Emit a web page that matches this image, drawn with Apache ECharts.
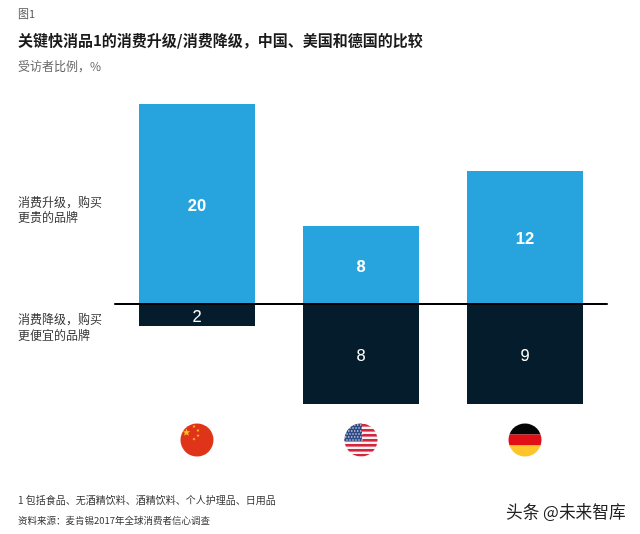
<!DOCTYPE html>
<html><head><meta charset="utf-8">
<style>html,body{margin:0;padding:0;background:#fff}#c{width:640px;height:534px}</style>
<script src="https://cdn.jsdelivr.net/npm/echarts@6/dist/echarts.min.js"></script>
</head><body><div id="c"></div>
<script>
const countries = ['中国', '美国', '德国'];
// Bar lengths as drawn in the picture (in units of the tallest bar's scale)
const upgradeHeights = [20, 7.8, 13.3];
const downgradeHeights = [-2.2, -10, -10];
// Numbers as printed on the bars
const upgradeLabels = ['20', '8', '12'];
const downgradeLabels = ['2', '8', '9'];
const figureNo = '图1';
const titleText = '关键快消品1的消费升级/消费降级，中国、美国和德国的比较';
const subtitleText = '受访者比例，%';
const upgradeNote = '消费升级，购买\n更贵的品牌';
const downgradeNote = '消费降级，购买\n更便宜的品牌';
const footnote = '1 包括食品、无酒精饮料、酒精饮料、个人护理品、日用品';
const sourceNote = '资料来源：麦肯锡2017年全球消费者信心调查';
const watermark = '头条 @未来智库';

function svgUri(inner) {
  const s = '<svg xmlns="http://www.w3.org/2000/svg" width="34" height="34" viewBox="0 0 34 34">' +
    '<defs><clipPath id="k"><circle cx="17" cy="17" r="16.5"/></clipPath></defs><g clip-path="url(#k)">' + inner + '</g></svg>';
  return 'data:image/svg+xml;charset=utf-8,' + encodeURIComponent(s);
}
function star(cx, cy, r, rot) {
  let p = [];
  for (let i = 0; i < 10; i++) {
    const a = rot + i * Math.PI / 5, q = i % 2 ? r * 0.42 : r;
    p.push((cx + q * Math.sin(a)).toFixed(2) + ',' + (cy - q * Math.cos(a)).toFixed(2));
  }
  return '<polygon fill="#f6c21c" points="' + p.join(' ') + '"/>';
}
const chinaFlag = svgUri('<rect width="34" height="34" fill="#e0341a"/>' +
  star(6.5, 9.5, 4, 0) + star(14, 3.5, 1.7, 0.5) + star(18, 7.5, 1.7, 1) + star(18, 12.5, 1.7, 0) + star(14, 16, 1.7, 0.5));
let usInner = '<rect width="34" height="34" fill="#f4f4f6"/>';
[1, 6, 11, 16, 21, 26, 31].forEach(y => { usInner += '<rect x="0" y="' + y + '" width="34" height="2.6" fill="#d5243c"/>'; });
usInner += '<rect width="18" height="18" fill="#2f4a86"/>';
for (let r = 0; r < 6; r++) for (let c = 0; c < 6; c++) usInner += '<circle cx="' + (1.8 + c * 3 + (r % 2) * 1.2) + '" cy="' + (2 + r * 3) + '" r="0.7" fill="#fff"/>';
const usaFlag = svgUri(usInner);
const germanyFlag = svgUri('<rect width="34" height="11.5" fill="#050505"/><rect y="11.5" width="34" height="11" fill="#e00f17"/><rect y="22.5" width="34" height="11.5" fill="#fdc52a"/>');

const textFont = '"Noto Sans CJK SC"';
const latin = '"Liberation Sans"';
function txt(x, y, text, size, color, weight, lh) {
  return { type: 'text', x, y, style: { text, font: (weight || 'normal') + ' ' + size + 'px ' + textFont, fill: color, lineHeight: lh || size * 1.2, verticalAlign: 'middle' } };
}
const chart = echarts.init(document.getElementById('c'), null, { renderer: 'canvas' });
chart.setOption({
  animation: false,
  backgroundColor: '#fff',
  grid: { left: 115, width: 492, top: 104, height: 300, containLabel: false, outerBoundsMode: 'none' },
  xAxis: {
    type: 'category', data: countries, position: 'bottom', z: 10,
    axisLine: { onZero: true, lineStyle: { color: '#000', width: 2 } },
    axisTick: { show: false },
    axisLabel: {
      interval: 0, margin: 19,
      formatter: (v, i) => '{f' + i + '|}',
      rich: {
        f0: { width: 34, height: 34, backgroundColor: { image: chinaFlag } },
        f1: { width: 34, height: 34, backgroundColor: { image: usaFlag } },
        f2: { width: 34, height: 34, backgroundColor: { image: germanyFlag } }
      }
    }
  },
  yAxis: { type: 'value', min: -10, max: 20, show: false, splitLine: { show: false } },
  series: [
    {
      name: '消费升级，购买更贵的品牌', type: 'bar', data: upgradeHeights, barWidth: 116, barGap: '-100%',
      itemStyle: { color: '#27a4de' },
      label: { show: true, position: 'inside', offset: [0, 2], formatter: p => upgradeLabels[p.dataIndex], color: '#fff', fontFamily: latin, fontSize: 16.5, fontWeight: 'bold' }
    },
    {
      name: '消费降级，购买更便宜的品牌', type: 'bar', data: downgradeHeights, barWidth: 116,
      itemStyle: { color: '#051c2c' },
      label: { show: true, position: 'inside', offset: [0, 2], formatter: p => downgradeLabels[p.dataIndex], color: '#fff', fontFamily: latin, fontSize: 16.5 }
    }
  ],
  graphic: [
    txt(18, 14, figureNo, 11, '#555'),
    txt(18, 40, titleText, 15, '#1a1a1a', 'bold'),
    txt(18, 66, subtitleText, 12, '#666'),
    txt(18, 209.5, upgradeNote, 12, '#333', 'normal', 15),
    txt(18, 327, downgradeNote, 12, '#333', 'normal', 16),
    txt(18, 500, footnote, 10, '#333'),
    txt(18, 520, sourceNote, 9.5, '#333'),
    txt(506, 512, watermark, 16.7, '#222')
  ]
});
</script></body></html>
